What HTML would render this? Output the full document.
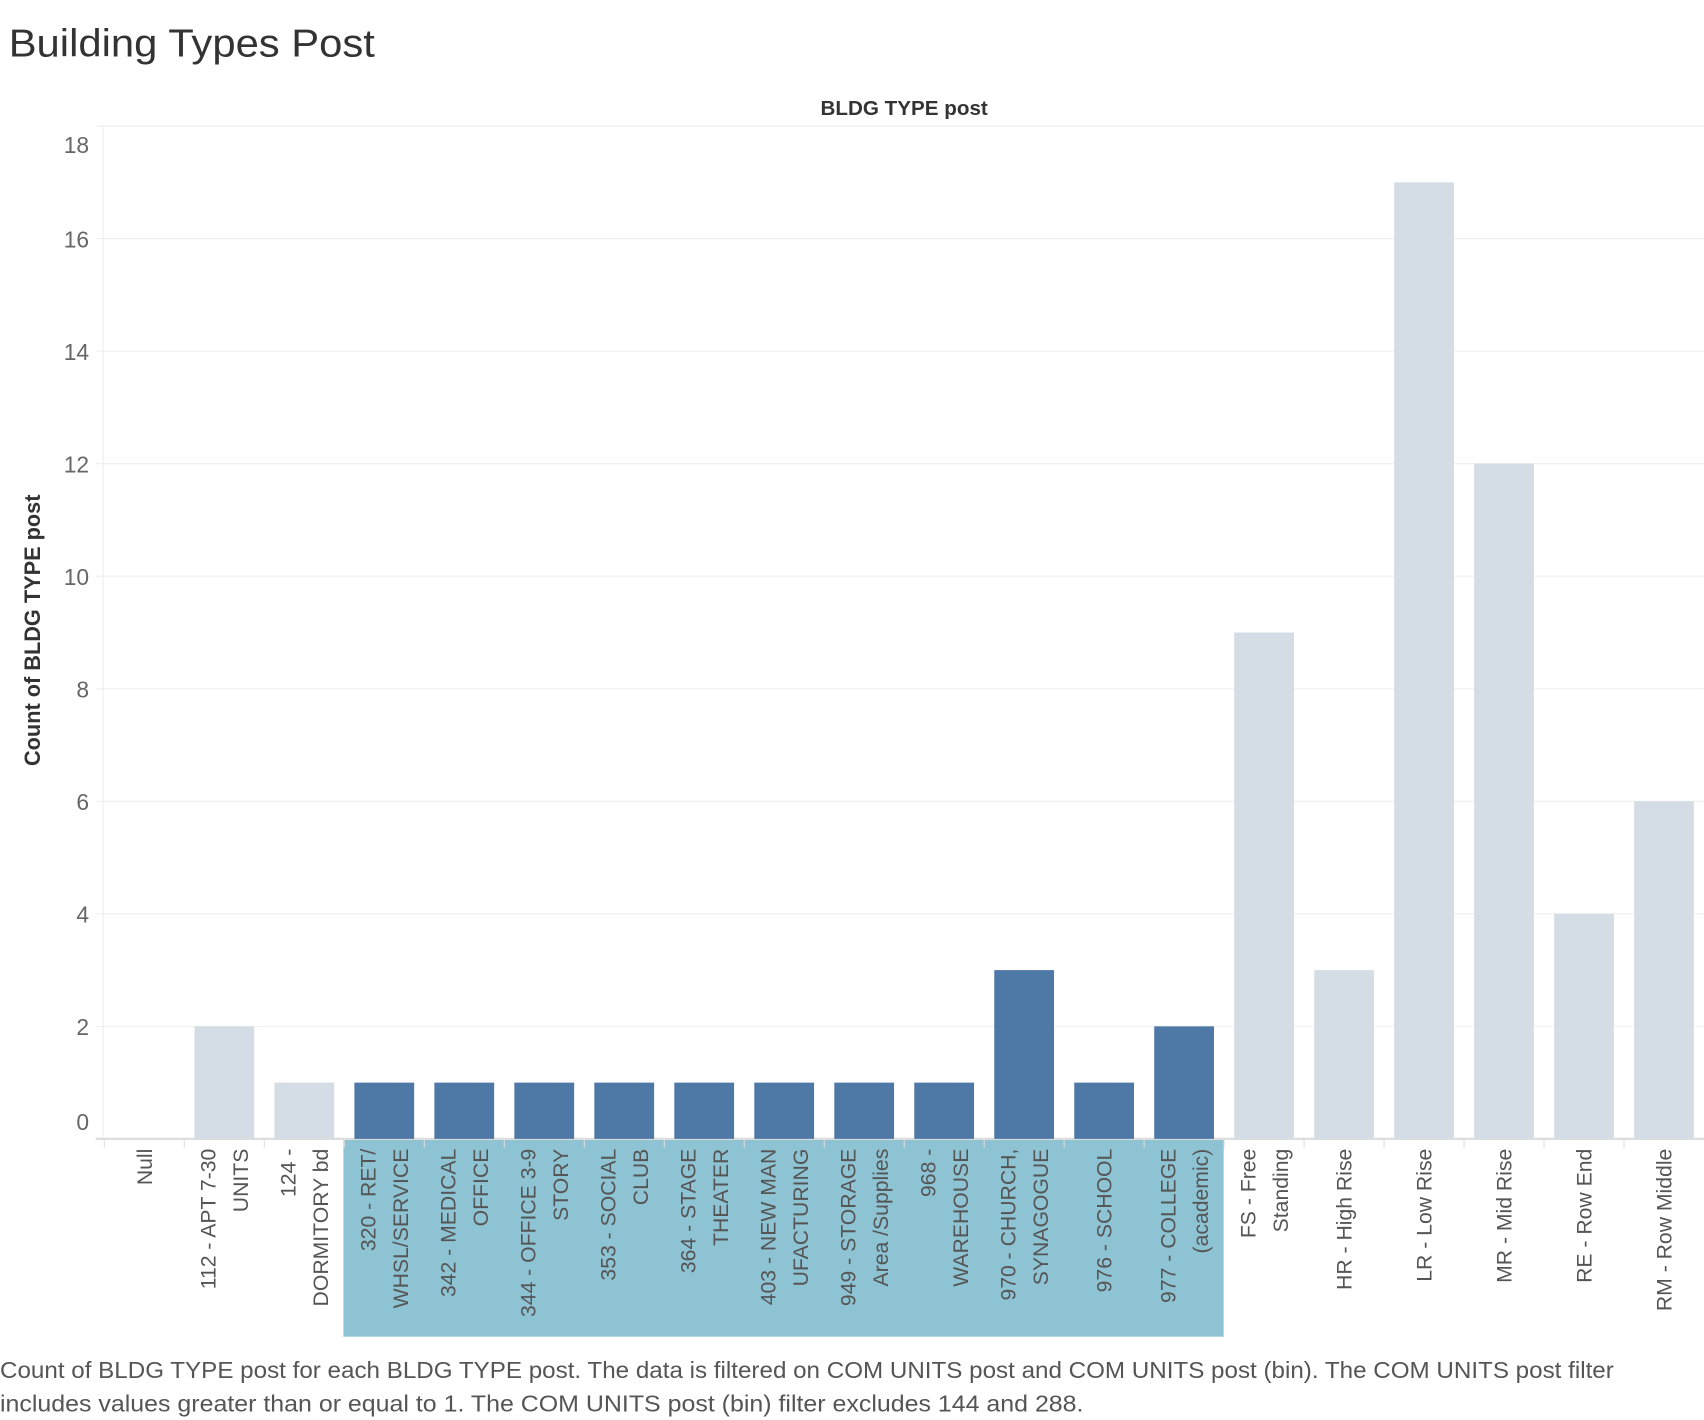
<!DOCTYPE html>
<html><head><meta charset="utf-8">
<style>
html,body{margin:0;padding:0;background:#fff;width:1704px;height:1420px;overflow:hidden}
svg{display:block;font-family:"Liberation Sans",sans-serif}
</style></head>
<body>
<svg id="chart" width="1704" height="1420" viewBox="0 0 1568 1306.67" xmlns="http://www.w3.org/2000/svg">
<text x="8" y="52" font-size="36" fill="#333" textLength="337" lengthAdjust="spacingAndGlyphs">Building Types Post</text>
<text x="832" y="106" font-size="19" font-weight="bold" fill="#333" text-anchor="middle">BLDG TYPE post</text>
<text transform="translate(37,580) rotate(-90)" font-size="20" font-weight="bold" fill="#333" text-anchor="middle">Count of BLDG TYPE post</text>
<rect x="316" y="1049" width="810" height="181" fill="#8dc3d3"/>
<g id="grid"></g><g id="bars"></g><g id="xlabels"></g>
<text x="0" y="1268" font-size="21" fill="#555" textLength="1485" lengthAdjust="spacingAndGlyphs">Count of BLDG TYPE post for each BLDG TYPE post. The data is filtered on COM UNITS post and COM UNITS post (bin). The COM UNITS post filter</text>
<text x="0" y="1299" font-size="21" fill="#555" textLength="997" lengthAdjust="spacingAndGlyphs">includes values greater than or equal to 1. The COM UNITS post (bin) filter excludes 144 and 288.</text>
</svg>
<script>
const categories=[["Null"],["112 - APT 7-30","UNITS"],["124 -","DORMITORY  bd"],["320 - RET/","WHSL/SERVICE"],["342 - MEDICAL","OFFICE"],["344 - OFFICE 3-9","STORY"],["353 - SOCIAL","CLUB"],["364 - STAGE","THEATER"],["403 - NEW MAN","UFACTURING"],["949 - STORAGE","Area /Supplies"],["968 -","WAREHOUSE"],["970 - CHURCH,","SYNAGOGUE"],["976 - SCHOOL"],["977 - COLLEGE","(academic)"],["FS - Free","Standing"],["HR - High Rise"],["LR - Low Rise"],["MR - Mid Rise"],["RE - Row End"],["RM - Row Middle"]];
const counts=[0,2,1,1,1,1,1,1,1,1,1,3,1,2,9,3,17,12,4,6];
const highlighted=[false,false,false,true,true,true,true,true,true,true,true,true,true,true,false,false,false,false,false,false];
const yTicks=[0,2,4,6,8,10,12,14,16,18];
const NS="http://www.w3.org/2000/svg";
const x0=96,band=73.6,barW=55,yZero=1048,yTop=116,yMax=18;
const xBand=i=>x0+i*band;
const yScale=v=>yZero-(v/yMax)*(yZero-yTop);
function mk(tag,attrs,parent){const e=document.createElementNS(NS,tag);for(const k in attrs)e.setAttribute(k,attrs[k]);parent.appendChild(e);return e;}
const grid=document.getElementById('grid'),bars=document.getElementById('bars'),xl=document.getElementById('xlabels');
mk('line',{x1:95,x2:95,y1:116,y2:1048,stroke:'#eee'},grid);
yTicks.forEach(t=>{const y=yScale(t);
 const l=mk('line',{x1:88,x2:1568,y1:y,y2:y,stroke:t===0?'#ddd':'#eee','stroke-width':t===0?2:1},grid);
 
 
 let by=y+8; if(t===0)by=1040; if(t===yMax)by=141;
 const tx=mk('text',{x:82,y:by,'font-size':21,fill:'#666','text-anchor':'end'},grid);
 tx.textContent=t;
 
 
});
categories.forEach((c,i)=>{
 const cx=xBand(i)+band/2;
 if(counts[i]>0){const r=mk('rect',{x:cx-barW/2,y:yScale(counts[i]),width:barW,height:yZero-yScale(counts[i]),fill:highlighted[i]?'#4e79a7':'#d4dde5'},bars);
  
  }
 const tk=mk('line',{x1:xBand(i),x2:xBand(i),y1:1049,y2:1056,stroke:'#ddd'},xl);
 
 
 const n=c.length;
 c.forEach((line,j)=>{const lx=cx+(j-(n-1)/2)*30+7;
  const t=mk('text',{transform:`translate(${lx},1057) rotate(-90)`,'font-size':19.5,fill:'#555','text-anchor':'end'},xl);
  t.textContent=line;
  
  });
});
</script>
</body></html>
